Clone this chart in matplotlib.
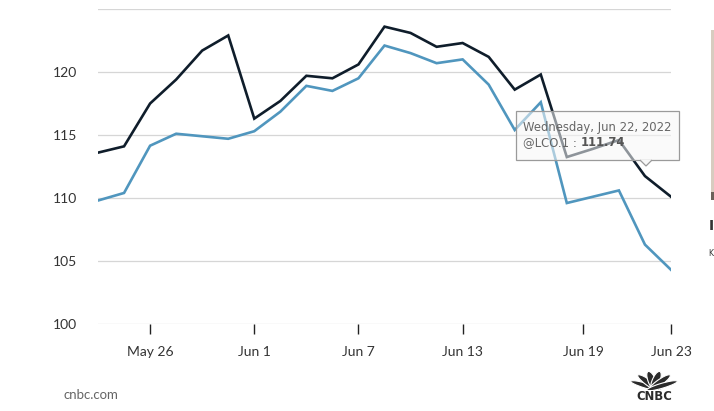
import math
import matplotlib.pyplot as plt
from matplotlib.patches import Rectangle, Polygon, Ellipse

# Datas de pregão (Brent, maio-junho 2022)
dates = ["May 24", "May 25", "May 26", "May 27", "May 30", "May 31", "Jun 1",
         "Jun 2", "Jun 3", "Jun 6", "Jun 7", "Jun 8", "Jun 9", "Jun 10",
         "Jun 13", "Jun 14", "Jun 15", "Jun 16", "Jun 17", "Jun 20", "Jun 21",
         "Jun 22", "Jun 23"]

# Série escura (@LCO.1)
lco1 = [113.6, 114.1, 117.5, 119.4, 121.7, 122.9, 116.3, 117.7, 119.7, 119.5,
        120.6, 123.6, 123.1, 122.0, 122.3, 121.2, 118.6, 119.8, 113.25, 113.9,
        114.6, 111.74, 110.1]

# Série azul
lco2 = [109.8, 110.4, 114.15, 115.1, 114.9, 114.7, 115.3, 116.85, 118.9, 118.5,
        119.5, 122.1, 121.5, 120.7, 121.0, 119.0, 115.4, 117.6, 109.6, 110.1,
        110.6, 106.3, 104.3]

tick_pos = [2, 6, 10, 14, 18.63, 22]
tick_labels = ["May 26", "Jun 1", "Jun 7", "Jun 13", "Jun 19", "Jun 23"]
y_ticks = [100, 105, 110, 115, 120]

W, H = 714, 411
fig = plt.figure(figsize=(W / 100, H / 100), dpi=100)
ax = fig.add_axes([98 / W, 1 - 324 / H, 573 / W, 315 / H])

x = list(range(len(dates)))
ax.plot(x, lco2, color="#5096be", lw=1.9, solid_joinstyle="miter", zorder=3)
ax.plot(x, lco1, color="#0f1d2b", lw=1.9, solid_joinstyle="miter", zorder=4)

ax.set_xlim(0, len(dates) - 1)
ax.set_ylim(100, 125)
for v in y_ticks + [125]:
    ax.axhline(v, color="#d6d6d6", lw=0.9, zorder=1)

for s in ax.spines.values():
    s.set_visible(False)

ax.set_yticks(y_ticks)
ax.set_yticklabels([str(v) for v in y_ticks], fontfamily="Lato", fontsize=10, color="#333333")
ax.tick_params(axis="y", length=0, pad=15)
ax.set_xticks(tick_pos)
ax.set_xticklabels(tick_labels, fontfamily="Lato", fontsize=10, color="#333333")
ax.tick_params(axis="x", length=7, width=1, color="#222222", pad=9, direction="out")

# tooltip (fundo semi-transparente)
tip_y = lco1[21]
fig.patches.append(Rectangle((515.5 / W, 1 - 160 / H), 163 / W, 48.5 / H,
                             transform=fig.transFigure, facecolor="#f7f7f7",
                             alpha=0.55, edgecolor="none", zorder=10))
fig.patches.append(Rectangle((515.5 / W, 1 - 160 / H), 163 / W, 48.5 / H,
                             transform=fig.transFigure, facecolor="none",
                             edgecolor="#9a9a9a", lw=0.9, zorder=11))
fig.patches.append(Polygon([(640 / W, 1 - 160 / H), (646 / W, 1 - 166 / H), (652 / W, 1 - 160 / H)],
                           closed=False, transform=fig.transFigure, facecolor="#f7f7f7",
                           edgecolor="#9a9a9a", lw=0.9, zorder=11))
fig.text(523 / W, 1 - 127 / H, "Wednesday, Jun 22, 2022", fontsize=8.4,
         color="#666666", va="center", zorder=12)
t = fig.text(523 / W, 1 - 143 / H, "@LCO.1 : ", fontsize=8.4,
             color="#666666", va="center", zorder=12)
fig.canvas.draw()
bb = t.get_window_extent()
fig.text(bb.x1 / W, 1 - 143 / H, f"{tip_y:.2f}", fontsize=8.4, fontweight="bold",
         color="#555555", va="center", zorder=12)

# rodapé
fig.text(63 / W, 1 - 399 / H, "cnbc.com", fontfamily="Lato", fontsize=9.5,
         color="#666666", va="baseline")

# logo CNBC (pavão simplificado)
cx, cy = 654, 390
for ang in [-62, -37, -12, 12, 37, 62]:
    r = 9
    ex = cx + r * math.sin(math.radians(ang))
    ey = cy - r * math.cos(math.radians(ang))
    fig.patches.append(Ellipse((ex / W, 1 - ey / H), 8 / W, 20 / H, angle=-ang,
                               transform=fig.transFigure, facecolor="#2b2b2b",
                               edgecolor="white", lw=0.8))
fig.patches.append(Rectangle((630 / W, 1 - 393 / H), 50 / W, 3 / H,
                             transform=fig.transFigure, facecolor="white", edgecolor="none"))
fig.text(654 / W, 1 - 396.5 / H, "CNBC", fontsize=8.4, fontweight="bold",
         ha="center", va="center", color="#2b2b2b")

# elementos da página à direita
fig.patches.append(Rectangle((711 / W, 1 - 198 / H), 3 / W, 168 / H,
                             transform=fig.transFigure, facecolor="#d8ccc0", edgecolor="none"))
fig.patches.append(Rectangle((711 / W, 1 - 200 / H), 3 / W, 8 / H,
                             transform=fig.transFigure, facecolor="#6b625a", edgecolor="none"))
fig.text(713.5 / W, 1 - 226 / H, "I", fontsize=10, fontweight="bold", color="#333333",
         ha="right", va="center")
fig.text(713.5 / W, 1 - 253 / H, "K", fontsize=5.5, color="#333333", ha="right", va="center")

fig.savefig("out.png", dpi=100)
